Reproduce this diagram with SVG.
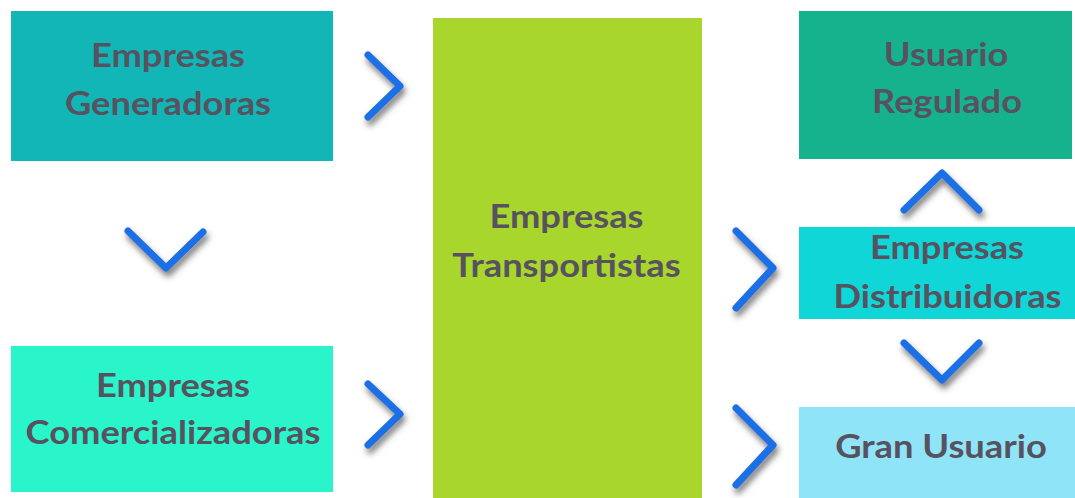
<svg xmlns="http://www.w3.org/2000/svg" width="1075" height="498" viewBox="0 0 1075 498">
  <defs>
    <style>
      .lbl { font-family: Lato, "Open Sans", "Liberation Sans", sans-serif; font-weight: 700; font-size: 33px; fill: #57525f; text-anchor: middle; }
      .chev { fill: none; stroke: #1f6fe6; stroke-width: 7; stroke-linecap: round; stroke-linejoin: round; filter: url(#shadow); }
    </style>
    <filter id="shadow" x="-60%" y="-60%" width="220%" height="220%">
      <feDropShadow dx="2" dy="5" stdDeviation="3" flood-color="#4a4a4a" flood-opacity="0.75"/>
    </filter>
  </defs>
  <rect width="1075" height="498" fill="#ffffff"/>

  <!-- labels are set slightly wide: matrix(1.1 0 0 1 cx 0) -->
  <g id="generadoras">
    <rect x="11" y="11" width="322" height="150" fill="#13b6b6"/>
    <text class="lbl" transform="matrix(1.1 0 0 1 168 0)" x="0" y="67">Empresas</text>
    <text class="lbl" transform="matrix(1.1 0 0 1 168 0)" x="0" y="115">Generadoras</text>
  </g>

  <g id="comercializadoras">
    <rect x="11" y="346" width="322" height="146" fill="#2af5ca"/>
    <text class="lbl" transform="matrix(1.1 0 0 1 173 0)" x="0" y="397">Empresas</text>
    <text class="lbl" transform="matrix(1.1 0 0 1 173 0)" x="0" y="444">Comercializadoras</text>
  </g>

  <g id="transportistas">
    <rect x="433" y="18" width="269" height="480" fill="#a9d62c"/>
    <text class="lbl" transform="matrix(1.1 0 0 1 566.5 0)" x="0" y="228">Empresas</text>
    <text class="lbl" transform="matrix(1.1 0 0 1 566.5 0)" x="0" y="277">Transportistas</text>
  </g>

  <g id="usuario-regulado">
    <rect x="799" y="11" width="273" height="148" fill="#16b28e"/>
    <text class="lbl" transform="matrix(1.1 0 0 1 946 0)" x="0" y="66">Usuario</text>
    <text class="lbl" transform="matrix(1.1 0 0 1 947 0)" x="0" y="113">Regulado</text>
  </g>

  <g id="distribuidoras">
    <rect x="799" y="227" width="276" height="92" fill="#10d6d8"/>
    <text class="lbl" transform="matrix(1.1 0 0 1 947 0)" x="0" y="259">Empresas</text>
    <text class="lbl" transform="matrix(1.1 0 0 1 947.5 0)" x="0" y="308">Distribuidoras</text>
  </g>

  <g id="gran-usuario">
    <rect x="799" y="407" width="276" height="91" fill="#90e4f7"/>
    <text class="lbl" transform="matrix(1.1 0 0 1 941 0)" x="0" y="458">Gran Usuario</text>
  </g>

  <g id="connectors">
    <polyline class="chev" points="368,55 400,86 368,117"/>
    <polyline class="chev" points="128,231 166,268 203,232"/>
    <polyline class="chev" points="368,384 400,414 368,445"/>
    <polyline class="chev" points="736,231 773,268 736,308"/>
    <polyline class="chev" points="736,408 773,445 736,485"/>
    <polyline class="chev" points="904,210 942,173 979,210"/>
    <polyline class="chev" points="904,343 942,380 979,343"/>
  </g>
</svg>
